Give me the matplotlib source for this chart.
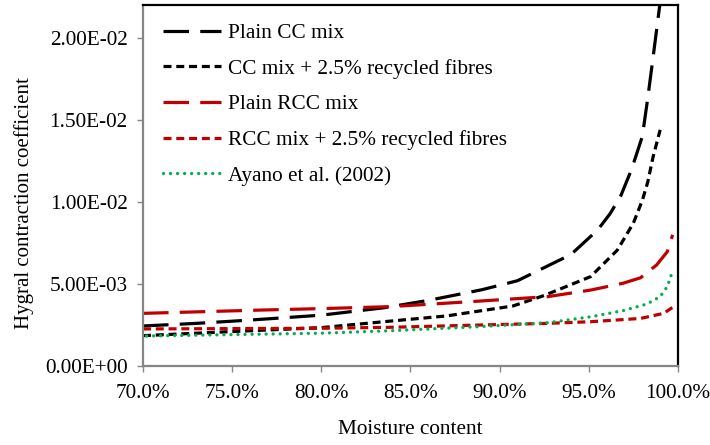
import matplotlib
matplotlib.use('Agg')
import matplotlib.pyplot as plt
from matplotlib.ticker import FuncFormatter, MultipleLocator

plt.rcParams['font.family'] = ['Liberation Serif', 'DejaVu Serif']

# moisture content (%) and hygral contraction coefficient
cc_x = [70, 73, 76, 80, 83.5, 86, 89, 91, 92.5, 94, 95.5, 96.2, 96.8, 97.4, 98, 98.3, 98.6, 98.8, 99.0]
cc_y = [0.00244, 0.0026, 0.0028, 0.0031, 0.00355, 0.0040, 0.00465, 0.0052, 0.0060, 0.0068,
        0.0083, 0.0093, 0.0104, 0.0120, 0.0140, 0.0163, 0.0188, 0.0205, 0.0222]

ccf_x = [70, 75, 80, 83.5, 87, 90.75, 92.5, 95.1, 96.6, 97.5, 98.0, 98.3, 98.6, 99.0]
ccf_y = [0.00185, 0.0021, 0.00234, 0.0027, 0.00305, 0.00366, 0.0043, 0.00545, 0.00707,
         0.00872, 0.0101, 0.0112, 0.01274, 0.0144]

rcc_x = [70, 76.6, 80, 83.9, 88.9, 92.7, 95.1, 96.9, 97.9, 98.8, 99.4, 99.7]
rcc_y = [0.00321, 0.00341, 0.0035, 0.00362, 0.00396, 0.00423, 0.00463, 0.00504, 0.00538,
         0.00616, 0.00697, 0.0080]

rccf_x = [70, 80, 83.9, 88.9, 92.7, 95.1, 97.9, 99.2, 99.7]
rccf_y = [0.00226, 0.0023, 0.00236, 0.0025, 0.0026, 0.0027, 0.0029, 0.00321, 0.00358]

ayano_x = [70.2, 80, 83.9, 88.9, 92.7, 95.1, 96.9, 98.26, 99.0, 99.4, 99.7]
ayano_y = [0.00183, 0.0020, 0.00215, 0.0024, 0.00264, 0.0030, 0.00337, 0.00378, 0.00423,
           0.00484, 0.0058]

labels = ['Plain CC mix', 'CC mix + 2.5% recycled fibres', 'Plain RCC mix',
          'RCC mix + 2.5% recycled fibres', 'Ayano et al. (2002)']

FS = 15.3

fig = plt.figure(figsize=(7.1, 4.45), dpi=100)
ax = fig.add_axes([143 / 710, 1 - 366 / 445, 535 / 710, 360.8 / 445])

lw = 2.3
ax.plot(cc_x, cc_y, color='black', lw=lw, dashes=(8, 3.5), label=labels[0])
ax.plot(ccf_x, ccf_y, color='black', lw=lw, dashes=(2.5, 1.5), label=labels[1])
ax.plot(rcc_x, rcc_y, color='#c00000', lw=lw, dashes=(8, 3.5), label=labels[2])
ax.plot(rccf_x, rccf_y, color='#c00000', lw=lw, dashes=(2.5, 1.5), label=labels[3])
ax.plot(ayano_x, ayano_y, color='#00b050', lw=2.4, dashes=(0.01, 2.1),
        dash_capstyle='round', label=labels[4])

ax.set_xlim(70, 100)
ax.set_ylim(0, 0.022)
ax.xaxis.set_major_locator(MultipleLocator(5))
ax.yaxis.set_major_locator(MultipleLocator(0.005))
ax.xaxis.set_major_formatter(FuncFormatter(lambda v, p: f'{v:.1f}%'))
ax.yaxis.set_major_formatter(FuncFormatter(lambda v, p: f'{v:.2E}'))
ax.tick_params(axis='both', direction='out', length=4, width=1, color='#868686',
               labelsize=FS, pad=7)
ax.tick_params(axis='x', pad=9)

for s in ['top', 'right']:
    ax.spines[s].set_color('black')
    ax.spines[s].set_linewidth(1.6)
for s in ['left', 'bottom']:
    ax.spines[s].set_color('#868686')
    ax.spines[s].set_linewidth(1.6)

fig.text(0.034, (445 - 203) / 445, 'Hygral contraction coefficient', rotation=90,
         ha='center', va='center', fontsize=15)
fig.text(410 / 710, 1 - 429 / 445, 'Moisture content', ha='center', va='center',
         fontsize=FS)

ax.legend(loc='upper left', bbox_to_anchor=(20 / 535, 0.95), frameon=False,
          fontsize=FS, handlelength=2.75, handletextpad=0.33, labelspacing=0.74,
          borderpad=0, borderaxespad=0)

fig.savefig('out.png', dpi=100)
